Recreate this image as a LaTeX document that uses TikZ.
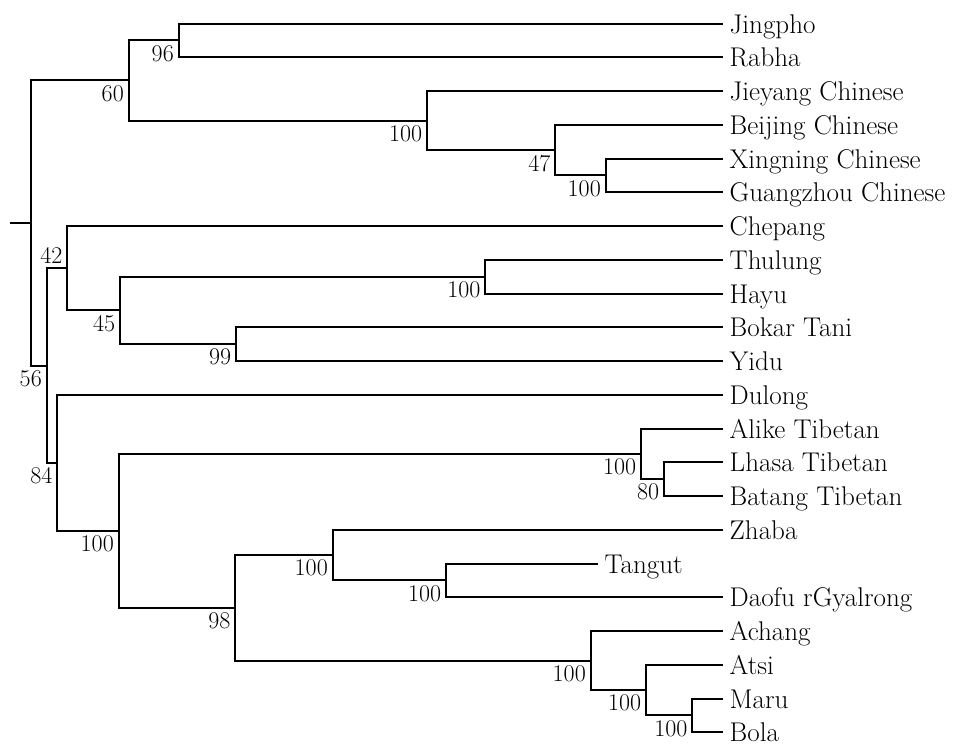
\documentclass[tikz,border=0pt]{standalone}
\tikzset{
  branch/.style={line width=1.5pt, line join=miter},
  leaf/.style={anchor=base west, inner sep=0pt, xshift=4.6pt, yshift=-7.3pt, font=\fontsize{20.3}{24}\selectfont},
  support/.style={anchor=north east, inner sep=3.5pt, font=\fontsize{18}{20}\selectfont},
  supportup/.style={anchor=south east, inner sep=3.5pt, font=\fontsize{18}{20}\selectfont}
}
\begin{document}
\begin{tikzpicture}[x=0.75pt,y=-0.75pt]
\useasboundingbox (0,0) rectangle (974,747);
% internal nodes
\coordinate (stub) at (10,223);
\coordinate (root) at (31,223);
\coordinate (n60) at (128.7,80.45);
\coordinate (n96) at (178.7,40.375);
\coordinate (nJie) at (427,120.53);
\coordinate (n47) at (555.3,150.06);
\coordinate (nXG) at (605.7,175.375);
\coordinate (n56) at (46.7,365.5);
\coordinate (n42) at (67.3,268.2);
\coordinate (n45) at (120,310.4);
\coordinate (nTH) at (485.3,276.6);
\coordinate (n99) at (236,344.1);
\coordinate (n84) at (57.3,462.8);
\coordinate (nBig) at (118.7,530.8);
\coordinate (nTib) at (641,453.8);
\coordinate (nLB) at (664,479.1);
\coordinate (n98) at (235.3,607.8);
\coordinate (nZh) at (332.7,555.1);
\coordinate (nTD) at (446,580.4);
\coordinate (nAch) at (590.7,660.5);
\coordinate (nAtsi) at (646,690.1);
\coordinate (nMB) at (692.3,715.4);
% leaves
\foreach \nm/\yy/\txt in {
  Jingpho/23.5/Jingpho, Rabha/57.25/Rabha, Jieyang/91/Jieyang Chinese,
  Beijing/124.75/Beijing Chinese, Xingning/158.5/Xingning Chinese,
  Guangzhou/192.25/Guangzhou Chinese, Chepang/226/Chepang,
  Thulung/259.75/Thulung, Hayu/293.5/Hayu, Bokar/327.25/Bokar Tani,
  Yidu/361/Yidu, Dulong/394.75/Dulong, Alike/428.5/Alike Tibetan,
  Lhasa/462.25/Lhasa Tibetan, Batang/496/Batang Tibetan, Zhaba/529.75/Zhaba,
  Daofu/597.25/Daofu rGyalrong, Achang/631/Achang, Atsi/664.75/Atsi,
  Maru/698.5/Maru, Bola/732.25/Bola}{
  \coordinate (t\nm) at (723.3,\yy);
  \node[leaf] (L\nm) at (t\nm) {\txt};
}
\coordinate (tTangut) at (598.3,563.5);
\node[leaf] (LTangut) at (tTangut) {Tangut};
% branches
\draw[branch] (stub) -- (root);
\draw[branch] (root) |- (n60);
\draw[branch] (root) |- (n56);
\draw[branch] (n60) |- (n96);
\draw[branch] (n60) |- (nJie);
\draw[branch] (n96) |- (tJingpho);
\draw[branch] (n96) |- (tRabha);
\draw[branch] (nJie) |- (tJieyang);
\draw[branch] (nJie) |- (n47);
\draw[branch] (n47) |- (tBeijing);
\draw[branch] (n47) |- (nXG);
\draw[branch] (nXG) |- (tXingning);
\draw[branch] (nXG) |- (tGuangzhou);
\draw[branch] (n56) |- (n42);
\draw[branch] (n56) |- (n84);
\draw[branch] (n42) |- (tChepang);
\draw[branch] (n42) |- (n45);
\draw[branch] (n45) |- (nTH);
\draw[branch] (n45) |- (n99);
\draw[branch] (nTH) |- (tThulung);
\draw[branch] (nTH) |- (tHayu);
\draw[branch] (n99) |- (tBokar);
\draw[branch] (n99) |- (tYidu);
\draw[branch] (n84) |- (tDulong);
\draw[branch] (n84) |- (nBig);
\draw[branch] (nBig) |- (nTib);
\draw[branch] (nBig) |- (n98);
\draw[branch] (nTib) |- (tAlike);
\draw[branch] (nTib) |- (nLB);
\draw[branch] (nLB) |- (tLhasa);
\draw[branch] (nLB) |- (tBatang);
\draw[branch] (n98) |- (nZh);
\draw[branch] (n98) |- (nAch);
\draw[branch] (nZh) |- (tZhaba);
\draw[branch] (nZh) |- (nTD);
\draw[branch] (nTD) |- (tTangut);
\draw[branch] (nTD) |- (tDaofu);
\draw[branch] (nAch) |- (tAchang);
\draw[branch] (nAch) |- (nAtsi);
\draw[branch] (nAtsi) |- (tAtsi);
\draw[branch] (nAtsi) |- (nMB);
\draw[branch] (nMB) |- (tMaru);
\draw[branch] (nMB) |- (tBola);
% support values
\node[support] (s96) at (n96) {96};
\node[support] (s60) at (n60) {60};
\node[support] (sJie) at (nJie) {100};
\node[support] (s47) at (n47) {47};
\node[support] (sXG) at (nXG) {100};
\node[supportup] (s42) at (n42) {42};
\node[support] (s56) at (n56) {56};
\node[support] (s45) at (n45) {45};
\node[support] (sTH) at (nTH) {100};
\node[support] (s99) at (n99) {99};
\node[support] (s84) at (n84) {84};
\node[support] (sBig) at (nBig) {100};
\node[support] (sTib) at (nTib) {100};
\node[support] (sLB) at (nLB) {80};
\node[support] (s98) at (n98) {98};
\node[support] (sZh) at (nZh) {100};
\node[support] (sTD) at (nTD) {100};
\node[support] (sAch) at (nAch) {100};
\node[support] (sAtsi) at (nAtsi) {100};
\node[support] (sMB) at (nMB) {100};
\end{tikzpicture}
\end{document}
